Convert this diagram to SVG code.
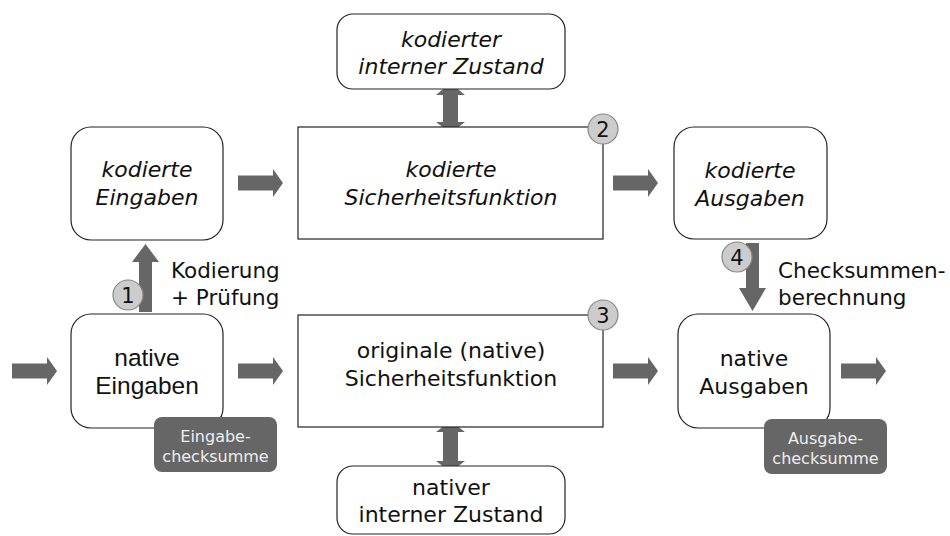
<svg xmlns="http://www.w3.org/2000/svg" width="950" height="536" viewBox="0 0 950 536">
<defs>
<style>
.box{fill:#fff;stroke:#222;stroke-width:1.2}
.t{font-family:"DejaVu Sans",sans-serif;font-size:22px;fill:#111;text-anchor:middle}
.i{font-style:italic}
.a{font-family:"Liberation Sans",Arial,sans-serif;font-size:24.5px}
.lbl{font-family:"DejaVu Sans",sans-serif;font-size:21.5px;fill:#111}
.badge{fill:#666}
.bt{font-family:"DejaVu Sans",sans-serif;font-size:16px;fill:#eee;text-anchor:middle}
.arr{fill:#666}
.num{fill:#ccc;stroke:#888;stroke-width:1.2}
.nt{font-family:"DejaVu Sans",sans-serif;font-size:21px;fill:#111;text-anchor:middle}
</style>
<path id="ra" d="M0,-7.5 H35 V-14 L45,0 L35,14 V7.5 H0 Z"/>
</defs>
<rect width="950" height="536" fill="#fff"/>
<g id="connectors">
<use href="#ra" class="arr" x="238" y="183"/>
<use href="#ra" class="arr" x="613" y="183"/>
<use href="#ra" class="arr" x="12" y="371"/>
<use href="#ra" class="arr" x="238" y="371"/>
<use href="#ra" class="arr" x="613" y="371"/>
<use href="#ra" class="arr" x="841" y="371"/>
<path class="arr" d="M443,95 H436 L450.5,83 L465,95 H458 V122 H465 L450.5,133 L436,122 H443 Z"/>
<path class="arr" d="M443,432 H436 L450.5,421 L465,432 H458 V461 H465 L450.5,472 L436,461 H443 Z"/>
<path class="arr" d="M139,312 V262 H132 L145.5,244 L159,262 H152 V312 Z"/>
<path class="arr" d="M746,243 H759 V288 H766 L752.5,311 L739,288 H746 Z"/>
<text class="lbl" x="171" y="278">Kodierung</text>
<text class="lbl" x="171" y="305">+ Prüfung</text>
<text class="lbl" x="778" y="278">Checksummen-</text>
<text class="lbl" x="778" y="305">berechnung</text>
</g>
<g id="n_kodierter_zustand">
<rect class="box" x="337" y="14" width="228" height="75" rx="16"/>
<text class="t i" x="451" y="47">kodierter</text>
<text class="t i" x="451" y="74">interner Zustand</text>
</g>
<g id="n_kodierte_eingaben">
<rect class="box" x="71" y="127" width="152" height="113" rx="20"/>
<text class="t i" x="147" y="177">kodierte</text>
<text class="t i" x="147" y="205">Eingaben</text>
</g>
<g id="n_kodierte_sf">
<rect class="box" x="298" y="127" width="305" height="112"/>
<text class="t i" x="451" y="177">kodierte</text>
<text class="t i" x="451" y="205">Sicherheitsfunktion</text>
<circle class="num" cx="603" cy="129" r="15"/>
<text class="nt" x="603" y="137">2</text>
</g>
<g id="n_kodierte_ausgaben">
<rect class="box" x="674" y="127" width="153" height="112" rx="20"/>
<text class="t i" x="750" y="178">kodierte</text>
<text class="t i" x="750" y="206">Ausgaben</text>
</g>
<g id="n_native_eingaben">
<rect class="box" x="71" y="314" width="152" height="114" rx="20"/>
<text class="t a" x="147" y="366">native</text>
<text class="t a" x="147" y="394">Eingaben</text>
<rect class="badge" x="154" y="417" width="123" height="55" rx="8"/>
<text class="bt" x="215.5" y="442">Eingabe-</text>
<text class="bt" x="215.5" y="462">checksumme</text>
</g>
<g id="c1">
<circle class="num" cx="128" cy="295" r="15"/>
<text class="nt" x="128" y="303">1</text>
</g>
<g id="c4">
<circle class="num" cx="737" cy="257" r="15"/>
<text class="nt" x="737" y="265">4</text>
</g>
<g id="n_orig_sf">
<rect class="box" x="298" y="315" width="305" height="112"/>
<text class="t" x="451" y="358">originale (native)</text>
<text class="t" x="451" y="386">Sicherheitsfunktion</text>
<circle class="num" cx="603" cy="315" r="15"/>
<text class="nt" x="603" y="323">3</text>
</g>
<g id="n_native_ausgaben">
<rect class="box" x="678" y="314" width="152" height="114" rx="20"/>
<text class="t" x="754" y="366">native</text>
<text class="t" x="754" y="394">Ausgaben</text>
<rect class="badge" x="764" y="419" width="123" height="55" rx="8"/>
<text class="bt" x="825.5" y="444">Ausgabe-</text>
<text class="bt" x="825.5" y="464">checksumme</text>
</g>
<g id="n_nativer_zustand">
<rect class="box" x="337" y="466" width="228" height="68" rx="16"/>
<text class="t" x="451" y="495">nativer</text>
<text class="t" x="451" y="522">interner Zustand</text>
</g>
</svg>
